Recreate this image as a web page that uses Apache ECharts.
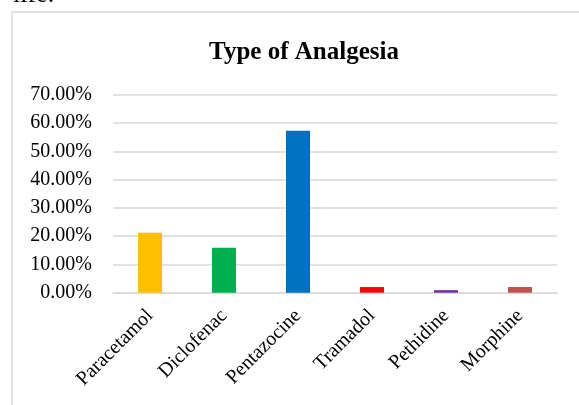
<!DOCTYPE html>
<html>
<head>
<meta charset="utf-8">
<script src="https://cdn.jsdelivr.net/npm/echarts@6/dist/echarts.min.js"></script>
<style>
html,body{margin:0;padding:0;background:#fff;}
#chart{width:579px;height:405px;}
</style>
</head>
<body>
<div id="chart"></div>
<script>
const categories = ['Paracetamol', 'Diclofenac', 'Pentazocine', 'Tramadol', 'Pethidine', 'Morphine'];
const values = [0.212, 0.159, 0.573, 0.020, 0.009, 0.020];
const barColors = ['#FFC000', '#00B050', '#0070C0', '#FF0000', '#7030A0', '#C0504D'];
const yTicks = [0, 0.1, 0.2, 0.3, 0.4, 0.5, 0.6, 0.7];

const chart = echarts.init(document.getElementById('chart'), null, {renderer: 'canvas'});
const font = "'Liberation Serif', 'Times New Roman', serif";
chart.setOption({
  animation: false,
  backgroundColor: '#fff',
  title: {
    text: 'Type of Analgesia',
    left: 299, top: 35, textAlign: 'center',
    textStyle: {fontFamily: font, fontSize: 25, fontWeight: 'bold', color: '#000'}
  },
  graphic: [
    {type: 'rect', shape: {x: 12, y: 12, width: 700, height: 600}, style: {fill: 'none', stroke: '#d9d9d9', lineWidth: 1.5}, silent: true},
    {type: 'text', left: 13, top: -18, style: {text: 'life.', font: "26px 'Liberation Serif', serif", fill: '#000'}}
  ],
  grid: {left: 113, right: 22, top: 95, bottom: 112.3},
  xAxis: {
    type: 'category',
    data: categories,
    axisLine: {lineStyle: {color: '#d9d9d9', width: 1.5}},
    axisTick: {show: false},
    axisLabel: {rotate: 45, margin: 20, fontFamily: font, fontSize: 20, color: '#000', interval: 0}
  },
  yAxis: {
    type: 'value',
    min: 0, max: 0.7, interval: 0.1,
    axisLine: {show: false},
    axisTick: {show: false},
    splitLine: {lineStyle: {color: '#d9d9d9', width: 1.5}},
    axisLabel: {
      margin: 21, fontFamily: font, fontSize: 20, color: '#000',
      formatter: v => (v * 100).toFixed(2) + '%'
    }
  },
  series: [{
    type: 'bar',
    barWidth: 24,
    data: values.map((v, i) => ({value: v, itemStyle: {color: barColors[i]}}))
  }]
});
</script>
</body>
</html>
